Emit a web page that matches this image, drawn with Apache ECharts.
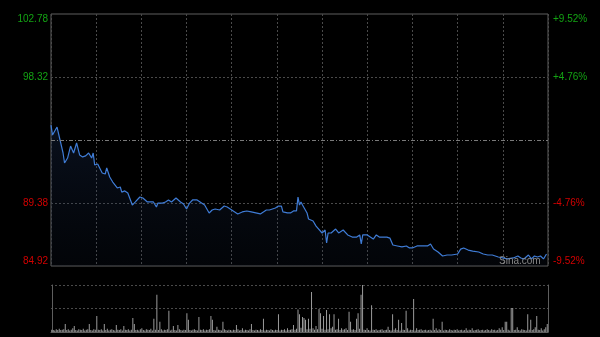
<!DOCTYPE html>
<html>
<head>
<meta charset="utf-8">
<script src="https://cdn.jsdelivr.net/npm/echarts@6/dist/echarts.min.js"></script>
<style>
html,body{margin:0;padding:0;background:#000;}
#c{width:600px;height:337px;}
</style>
</head>
<body>
<div id="c"></div>
<script>
// ---- data ----
const prevClose = 93.85;
const priceMin = 84.92;
const priceMax = 102.78;
const leftLabels = ['84.92', '89.38', '', '98.32', '102.78'];
const rightLabels = ['-9.52%', '-4.76%', '', '+4.76%', '+9.52%'];
const labelSide = ['r', 'r', '', 'g', 'g'];

// minute index of each price reading
const times = [0,1,4,6,8,9,11,13,15,17,19,21,23,25,27,28,29,31,34,36,37,39,41,42,44,46,47,49,51,52,54,56,57,59,61,64,66,68,70,71,74,76,78,80,83,86,88,90,92,94,97,100,102,105,107,109,112,115,117,119,121,124,125,127,130,133,136,139,141,143,145,149,151,153,154,157,159,161,163,164,165,166,167,170,171,174,176,177,180,182,183,184,186,189,191,194,197,200,203,205,206,207,210,214,216,218,220,223,225,227,230,233,236,238,240,243,246,250,252,254,257,260,263,266,270,272,274,277,280,284,287,290,293,297,300,303,307,310,312,314,317,319,321,323,325,327,329];
const prices = [94.91,94.20,94.77,93.85,92.93,92.22,92.57,93.42,92.93,93.64,92.79,92.65,92.72,92.93,92.57,92.93,92.08,92.15,91.51,91.44,91.87,91.23,90.87,91.01,90.45,90.52,90.16,90.24,90.09,89.81,89.24,89.46,89.38,89.81,89.74,89.46,89.46,89.46,89.10,89.38,89.38,89.46,89.60,89.46,89.74,89.46,89.31,88.96,89.38,89.60,89.60,89.38,89.24,88.68,88.89,88.96,88.89,89.17,89.10,88.96,88.82,88.61,88.75,88.75,88.82,88.75,88.68,88.61,88.75,88.89,88.89,89.03,89.17,89.17,88.75,88.68,88.68,88.82,88.82,89.81,89.24,89.46,89.24,88.68,88.25,88.11,87.75,87.61,87.26,87.47,86.55,87.26,87.26,87.54,87.26,87.47,87.12,86.97,86.97,87.12,86.48,87.12,87.12,86.83,87.12,86.97,86.97,86.97,86.90,86.41,86.34,86.27,86.34,86.20,86.20,86.34,86.34,86.34,86.48,86.12,85.91,85.63,85.70,85.70,85.77,86.12,86.20,86.05,85.98,85.91,85.77,85.70,85.70,85.56,85.49,85.42,85.49,85.63,85.49,85.42,85.70,85.42,85.63,85.56,85.63,85.42,85.77];

// volume per minute (0..330), relative units
const volumes = [
5,4,3,6,4,7,4,5,6,17,
4,6,3,5,8,13,4,3,6,5,
4,7,3,5,6,17,4,3,6,5,
34,5,4,6,3,17,4,7,3,5,
6,4,3,15,5,4,6,3,13,5,
4,6,3,5,30,17,4,5,3,6,
8,4,3,6,5,4,7,3,28,5,
79,4,22,6,3,5,4,6,45,3,
5,13,4,3,15,6,4,3,5,4,
40,26,4,3,5,6,4,3,32,5,
4,6,3,5,4,6,34,26,4,3,
11,5,4,3,22,6,4,3,5,4,
3,5,4,15,6,3,4,8,3,5,
4,3,6,17,4,3,5,4,3,6,
4,28,3,5,4,3,6,4,3,5,
4,38,3,5,4,6,3,8,4,5,
6,15,5,7,48,38,9,32,30,26,
6,28,7,85,8,5,13,6,49,40,
7,34,5,47,6,38,8,11,38,5,
6,28,4,8,5,6,8,4,43,22,
5,6,4,28,40,7,79,100,5,4,
8,4,3,57,5,4,6,3,4,5,
6,3,4,5,11,4,3,38,5,8,
4,26,3,19,5,4,45,8,3,5,
4,70,3,8,4,5,6,3,4,5,
3,4,5,3,28,4,8,3,6,4,
22,3,5,4,3,6,4,3,5,4,
6,3,4,5,3,4,8,3,5,4,
8,3,4,5,6,3,4,5,3,4,
6,4,3,6,4,5,3,4,8,5,
10,4,22,22,5,3,51,51,4,5,
10,4,3,6,5,4,3,38,5,26,
4,6,10,34,5,4,8,3,6,10,
17];
const sessionMinutes = 330;

// ---- chart ----
const chart = echarts.init(document.getElementById('c'));
const FONT = 'Arial, "Liberation Sans", sans-serif';
const GRIDC = '#4a4a4a';
const BORDER = '#5e5e5e';
const rich = {
  g: {color: '#13a313', fontSize: 10, fontFamily: FONT},
  r: {color: '#d20000', fontSize: 10, fontFamily: FONT}
};
function lbl(arr) {
  return function (v) {
    const i = Math.round(v);
    if (!arr[i]) return '';
    return '{' + labelSide[i] + '|' + arr[i] + '}';
  };
}

chart.setOption({
  backgroundColor: '#000',
  animation: false,
  grid: [
    {left: 51, top: 14, width: 497, height: 252, show: true, borderColor: BORDER, borderWidth: 1, backgroundColor: 'transparent'},
    {left: 51, top: 285, width: 497, height: 47, show: false}
  ],
  xAxis: [
    {type: 'value', gridIndex: 0, min: 0, max: sessionMinutes, interval: 30,
     axisLine: {show: false}, axisTick: {show: false}, axisLabel: {show: false},
     splitLine: {show: true, lineStyle: {color: GRIDC, type: [2, 2], width: 1}}},
    {type: 'value', gridIndex: 1, min: -0.5, max: sessionMinutes + 0.5,
     axisLine: {show: true, lineStyle: {color: BORDER}}, axisTick: {show: false}, axisLabel: {show: false},
     splitLine: {show: false}}
  ],
  yAxis: [
    {type: 'value', gridIndex: 0, min: priceMin, max: priceMax, show: false, splitLine: {show: false}},
    {type: 'value', gridIndex: 0, position: 'left', min: 0, max: 4, interval: 1,
     axisLine: {show: false}, axisTick: {show: false},
     axisLabel: {formatter: lbl(leftLabels), rich: rich, margin: 3,
       verticalAlignMaxLabel: 'top', verticalAlignMinLabel: 'bottom'},
     splitLine: {show: true, lineStyle: {color: ['transparent', GRIDC, 'transparent', GRIDC, 'transparent'], type: [2, 2], width: 1}}},
    {type: 'value', gridIndex: 0, position: 'right', min: 0, max: 4, interval: 1,
     axisLine: {show: false}, axisTick: {show: false},
     axisLabel: {formatter: lbl(rightLabels), rich: rich, margin: 5,
       verticalAlignMaxLabel: 'top', verticalAlignMinLabel: 'bottom'},
     splitLine: {show: false}},
    {type: 'value', gridIndex: 1, min: 0, max: 100, interval: 50, position: 'left',
     axisLine: {show: true, lineStyle: {color: BORDER}}, axisTick: {show: false}, axisLabel: {show: false},
     splitLine: {show: true, lineStyle: {color: GRIDC, type: [2, 2], width: 1}}},
    {type: 'value', gridIndex: 1, min: 0, max: 100, position: 'right',
     axisLine: {show: true, lineStyle: {color: BORDER}}, axisTick: {show: false}, axisLabel: {show: false},
     splitLine: {show: false}}
  ],
  series: [
    {
      type: 'line', xAxisIndex: 0, yAxisIndex: 0,
      data: times.map((t, i) => [t, prices[i]]),
      showSymbol: false, smooth: false,
      lineStyle: {color: '#3f7cd6', width: 1.2},
      areaStyle: {origin: 'start', color: new echarts.graphic.LinearGradient(0, 0, 0, 1, [
        {offset: 0, color: 'rgba(35,60,110,0.38)'},
        {offset: 1, color: 'rgba(20,35,65,0.18)'}
      ])},
      markLine: {
        silent: true, symbol: 'none', label: {show: false},
        lineStyle: {color: '#7a7a7a', type: [4, 2, 1, 2], width: 1},
        data: [{yAxis: prevClose}]
      },
      z: 3
    },
    {
      type: 'bar', xAxisIndex: 1, yAxisIndex: 3,
      data: volumes.map((v, i) => [i, v]),
      barWidth: 1,
      itemStyle: {color: '#9a9a9a'}
    }
  ],
  graphic: [
    {type: 'text', left: 499, top: 256, z: 10,
     style: {text: 'Sina.com', fill: '#8a8a8a', font: '10px ' + FONT}}
  ]
});
</script>
</body>
</html>
